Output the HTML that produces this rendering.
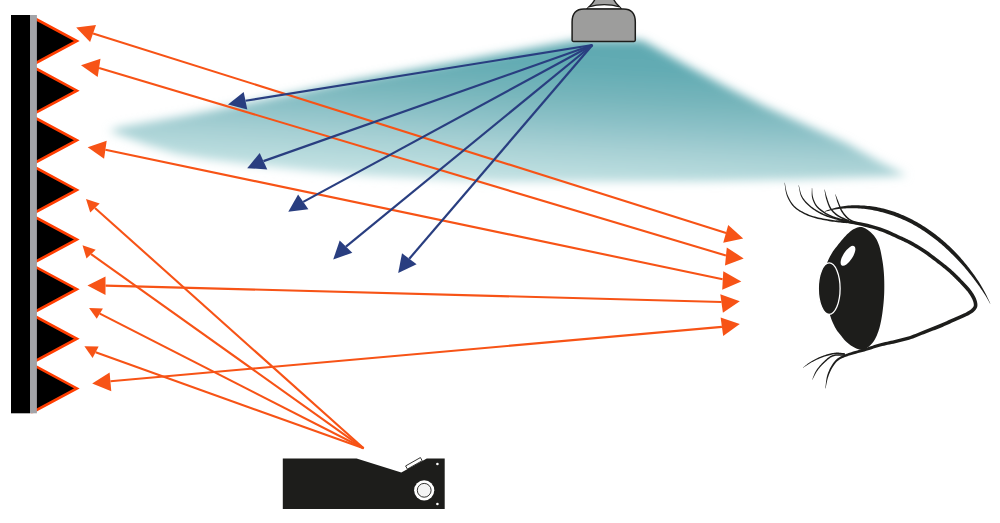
<!DOCTYPE html>
<html><head><meta charset="utf-8"><title>Diagram</title>
<style>html,body{margin:0;padding:0;background:#fff;width:1000px;height:523px;overflow:hidden;font-family:"Liberation Sans",sans-serif}svg{display:block}</style>
</head><body>
<svg width="1000" height="523" viewBox="0 0 1000 523"><defs><linearGradient id="cg" x1="650" y1="40" x2="642.3" y2="185" gradientUnits="userSpaceOnUse"><stop offset="0" stop-color="#60A9B1"/><stop offset="0.2" stop-color="#62ABB3"/><stop offset="0.41" stop-color="#76B5BB"/><stop offset="0.585" stop-color="#8CC1C7"/><stop offset="0.757" stop-color="#A5CFD3"/><stop offset="0.93" stop-color="#B9DCDE"/><stop offset="1" stop-color="#C3E1E3"/></linearGradient><filter id="bl" x="-10%" y="-40%" width="120%" height="180%"><feGaussianBlur stdDeviation="5"/></filter></defs><path d="M109.0,131.0 L119.0,127.3 L146.0,122.4 L176.5,117.2 L207.0,111.5 L250.0,102.5 L350.0,81.0 L450.0,63.0 L500.0,54.0 L550.0,45.0 L578.0,40.0 L641.0,40.0 L649.0,44.0 L687.0,65.5 L725.0,86.0 L764.0,106.0 L846.0,143.0 L880.0,162.0 L907.0,175.5 L880.0,177.0 L860.0,177.5 L800.0,179.5 L700.0,181.5 L500.0,182.0 L370.0,176.0 L310.0,171.0 L250.0,164.5 L207.0,159.3 L176.5,154.0 L146.0,144.5 L123.0,136.0 Z" fill="url(#cg)" filter="url(#bl)"/>
<line x1="93.10" y1="33.40" x2="726.10" y2="232.90" stroke="#F75316" stroke-width="2.1"/>
<line x1="99.10" y1="67.90" x2="725.90" y2="255.50" stroke="#F75316" stroke-width="2.1"/>
<line x1="105.40" y1="149.75" x2="722.60" y2="279.20" stroke="#F75316" stroke-width="2.1"/>
<line x1="105.50" y1="285.60" x2="721.50" y2="302.00" stroke="#F75316" stroke-width="2.1"/>
<line x1="110.40" y1="381.20" x2="721.90" y2="326.90" stroke="#F75316" stroke-width="2.1"/>
<line x1="363.60" y1="448.30" x2="94.95" y2="208.00" stroke="#F75316" stroke-width="2.1"/>
<line x1="363.60" y1="448.30" x2="91.10" y2="254.15" stroke="#F75316" stroke-width="2.1"/>
<line x1="363.60" y1="448.30" x2="99.83" y2="313.65" stroke="#F75316" stroke-width="2.1"/>
<line x1="363.60" y1="448.30" x2="95.62" y2="352.35" stroke="#F75316" stroke-width="2.1"/>
<polygon points="76.20,27.40 96.00,24.90 90.10,42.10" fill="#F75316"/>
<polygon points="81.00,65.30 100.50,58.70 97.70,77.10" fill="#F75316"/>
<polygon points="87.70,147.30 106.70,140.70 104.10,158.80" fill="#F75316"/>
<polygon points="87.45,285.40 105.50,276.40 105.50,295.10" fill="#F75316"/>
<polygon points="92.20,383.40 109.60,372.50 111.30,391.20" fill="#F75316"/>
<polygon points="743.20,238.40 728.20,224.90 723.20,242.80" fill="#F75316"/>
<polygon points="743.70,258.40 726.80,247.50 725.00,265.50" fill="#F75316"/>
<polygon points="741.30,281.40 723.30,271.20 722.20,289.80" fill="#F75316"/>
<polygon points="739.80,301.30 720.30,294.20 722.90,312.80" fill="#F75316"/>
<polygon points="739.80,324.10 720.60,317.50 723.20,335.90" fill="#F75316"/>
<polygon points="86.00,198.90 99.70,203.50 90.20,212.50" fill="#F75316"/>
<polygon points="82.50,245.20 95.70,249.80 86.50,258.50" fill="#F75316"/>
<polygon points="89.10,308.10 102.90,308.50 96.75,318.80" fill="#F75316"/>
<polygon points="84.40,346.30 98.65,346.60 92.60,358.10" fill="#F75316"/>
<line x1="592.40" y1="45.00" x2="245.50" y2="100.75" stroke="#293E80" stroke-width="2.2"/>
<polygon points="228.00,104.50 243.70,91.90 247.30,109.60" fill="#293E80"/>
<line x1="592.40" y1="45.00" x2="263.50" y2="161.15" stroke="#293E80" stroke-width="2.2"/>
<polygon points="247.20,168.20 259.70,152.90 267.30,169.40" fill="#293E80"/>
<line x1="592.40" y1="45.00" x2="303.25" y2="201.85" stroke="#293E80" stroke-width="2.2"/>
<polygon points="288.30,211.70 298.10,194.50 308.40,209.20" fill="#293E80"/>
<line x1="592.40" y1="45.00" x2="346.00" y2="246.55" stroke="#293E80" stroke-width="2.2"/>
<polygon points="333.20,259.60 339.70,240.40 352.30,252.70" fill="#293E80"/>
<line x1="592.40" y1="45.00" x2="409.30" y2="258.75" stroke="#293E80" stroke-width="2.2"/>
<polygon points="398.20,273.00 402.00,253.30 416.60,264.20" fill="#293E80"/>
<path d="M587.6,8.2 C591,4.8 594,2.5 595,-1 L613.6,-1 C614.6,2.5 617.6,4.8 620.8,8.2 Z" fill="#A2A2A1" stroke="#1D1D1B" stroke-width="1.4"/>
<path d="M588.6,7.2 Q604.2,2.6 619.8,7.2 L620.4,8.6 L588,8.6 Z" fill="#fff"/>
<path d="M588.6,6.8 Q604.2,2.6 619.8,6.8" fill="none" stroke="#1D1D1B" stroke-width="1.3"/>
<path d="M572.1,40.6 L572.1,22 C572.1,13 576,8.9 584,8.9 L623.4,8.9 C631.4,8.9 635.3,13 635.3,22 L635.3,40 Q635.3,41.4 634,41.4 L573.4,41.4 Q572.1,41.4 572.1,40 Z" fill="#9D9D9C" stroke="#1D1D1B" stroke-width="1.5"/>
<clipPath id="zc"><rect x="0" y="15" width="120" height="398.3"/></clipPath><path clip-path="url(#zc)" d="M30.7,16.20 L76.8,41.00 L30.7,65.80 L76.8,90.63 L30.7,115.43 L76.8,140.26 L30.7,165.06 L76.8,189.89 L30.7,214.69 L76.8,239.52 L30.7,264.32 L76.8,289.15 L30.7,313.95 L76.8,338.78 L30.7,363.58 L76.8,388.41 L30.7,413.21 " fill="#000" stroke="#FF3D00" stroke-width="2.7" stroke-linejoin="miter" stroke-miterlimit="10"/>
<rect x="11" y="15" width="19" height="398.3" fill="#000"/>
<rect x="30" y="15" width="6.9" height="398.3" fill="#A3A4A8"/>
<path d="M282.8,458.4 L356.6,458.4 L401.3,472.5 L426.8,458.4 L444.7,458.4 L444.7,509 L282.8,509 Z" fill="#1D1D1B"/>
<g transform="translate(414,463.5) rotate(-29.5)"><rect x="-8.5" y="-2" width="17" height="3.6" fill="#fff" stroke="#1D1D1B" stroke-width="0.8"/></g>
<circle cx="424.2" cy="490.3" r="10.1" fill="#fff"/>
<circle cx="424.2" cy="490.3" r="6.9" fill="#F4F4F4" stroke="#1D1D1B" stroke-width="0.9"/>
<circle cx="437.4" cy="464" r="1.3" fill="#fff"/>
<circle cx="437.4" cy="504" r="1.3" fill="#fff"/>
<path d="M860.80,226.90 L861.98,227.07 L863.16,227.43 L864.34,227.93 L865.52,228.55 L866.67,229.25 L867.80,230.00 L869.10,230.96 L870.41,232.05 L871.70,233.25 L872.93,234.53 L874.07,235.85 L875.10,237.20 L875.97,238.51 L876.73,239.85 L877.42,241.24 L878.05,242.68 L878.63,244.20 L879.20,245.80 L879.86,247.95 L880.45,250.28 L880.98,252.72 L881.46,255.20 L881.90,257.65 L882.30,260.00 L882.63,262.04 L882.93,264.03 L883.19,266.00 L883.42,267.96 L883.62,269.95 L883.80,272.00 L883.96,274.27 L884.09,276.58 L884.18,278.93 L884.25,281.29 L884.29,283.65 L884.30,286.00 L884.29,288.31 L884.26,290.60 L884.20,292.89 L884.10,295.21 L883.97,297.57 L883.80,300.00 L883.55,302.92 L883.24,305.98 L882.89,309.10 L882.49,312.20 L882.06,315.19 L881.60,318.00 L881.20,320.17 L880.79,322.25 L880.36,324.27 L879.89,326.22 L879.37,328.13 L878.80,330.00 L878.24,331.69 L877.64,333.36 L877.01,334.99 L876.33,336.56 L875.60,338.07 L874.80,339.50 L874.03,340.73 L873.23,341.91 L872.39,343.04 L871.49,344.10 L870.53,345.09 L869.50,346.00 L868.38,346.88 L867.19,347.74 L865.93,348.53 L864.64,349.19 L863.32,349.66 L862.00,349.90 L860.62,349.85 L859.18,349.55 L857.73,349.04 L856.28,348.41 L854.86,347.71 L853.50,347.00 L852.16,346.25 L850.85,345.41 L849.57,344.49 L848.32,343.53 L847.13,342.52 L846.00,341.50 L844.98,340.48 L844.01,339.41 L843.09,338.30 L842.21,337.18 L841.35,336.07 L840.50,335.00 L839.75,334.08 L839.02,333.19 L838.31,332.31 L837.62,331.41 L836.95,330.48 L836.30,329.50 L835.61,328.34 L834.94,327.13 L834.29,325.87 L833.67,324.59 L833.07,323.29 L832.50,322.00 L831.97,320.72 L831.48,319.45 L831.02,318.17 L830.57,316.85 L830.10,315.47 L829.60,314.00 L828.85,311.89 L828.02,309.60 L827.16,307.20 L826.34,304.75 L825.60,302.33 L825.00,300.00 L824.58,297.97 L824.22,295.97 L823.94,293.99 L823.73,292.01 L823.58,290.02 L823.50,288.00 L823.50,285.85 L823.59,283.65 L823.76,281.44 L823.98,279.24 L824.23,277.09 L824.50,275.00 L824.74,273.18 L824.98,271.41 L825.25,269.68 L825.58,267.96 L825.99,266.24 L826.50,264.50 L827.20,262.55 L828.04,260.56 L828.97,258.57 L829.96,256.62 L830.98,254.75 L832.00,253.00 L832.87,251.62 L833.78,250.32 L834.70,249.07 L835.63,247.87 L836.57,246.69 L837.50,245.50 L838.38,244.37 L839.25,243.26 L840.13,242.17 L841.02,241.09 L841.91,240.03 L842.80,239.00 L843.65,238.03 L844.49,237.08 L845.34,236.15 L846.20,235.24 L847.08,234.35 L848.00,233.50 L848.94,232.67 L849.90,231.84 L850.89,231.04 L851.90,230.29 L852.93,229.60 L854.00,229.00 L855.08,228.46 L856.20,227.95 L857.34,227.50 L858.50,227.15 L859.66,226.93 Z" fill="#1D1D1B"/><ellipse cx="829.2" cy="288.6" rx="10.9" ry="25.7" fill="#1D1D1B" stroke="#fff" stroke-width="1.3"/><ellipse cx="848" cy="255.8" rx="4.7" ry="11.5" transform="rotate(32.8 848 255.8)" fill="#fff"/><path d="M825.00,211.78 L826.62,211.31 L828.25,210.88 L829.89,210.48 L831.55,210.12 L833.21,209.80 L834.88,209.50 L836.56,209.24 L838.25,209.02 L839.95,208.82 L841.65,208.66 L843.35,208.53 L845.06,208.43 L846.77,208.37 L848.48,208.33 L850.19,208.29 L851.90,208.26 L853.62,208.26 L855.33,208.29 L857.05,208.35 L858.76,208.44 L860.47,208.55 L862.18,208.69 L863.89,208.86 L865.60,209.05 L867.30,209.27 L869.00,209.51 L870.69,209.78 L872.38,210.08 L874.06,210.40 L875.74,210.74 L877.41,211.11 L879.07,211.50 L880.73,211.91 L882.38,212.35 L884.02,212.81 L885.66,213.28 L887.29,213.75 L888.92,214.25 L890.54,214.77 L892.16,215.31 L893.76,215.87 L895.36,216.45 L896.94,217.05 L898.52,217.67 L900.09,218.31 L901.65,218.97 L903.20,219.65 L904.75,220.35 L906.28,221.07 L907.80,221.80 L909.32,222.56 L910.82,223.33 L912.32,224.12 L913.80,224.93 L915.28,225.75 L916.75,226.59 L918.20,227.45 L919.65,228.33 L921.09,229.22 L922.52,230.13 L923.94,231.05 L925.34,231.99 L926.74,232.94 L928.13,233.91 L929.51,234.89 L930.88,235.89 L932.24,236.90 L933.59,237.93 L934.93,238.97 L936.26,240.02 L937.59,241.09 L938.90,242.17 L940.20,243.26 L941.49,244.37 L942.78,245.49 L944.05,246.62 L945.32,247.76 L946.57,248.92 L947.82,250.09 L949.05,251.27 L950.28,252.46 L951.49,253.66 L952.70,254.87 L953.92,256.08 L955.13,257.29 L956.33,258.52 L957.52,259.75 L958.71,260.99 L959.88,262.25 L961.05,263.51 L962.20,264.79 L963.34,266.07 L964.48,267.37 L965.60,268.67 L966.72,269.98 L967.82,271.30 L968.91,272.63 L969.99,273.97 L971.06,275.32 L972.12,276.68 L973.17,278.04 L974.20,279.42 L975.23,280.80 L976.24,282.19 L977.25,283.58 L978.26,284.96 L979.27,286.35 L980.25,287.75 L981.23,289.16 L982.19,290.57 L983.14,291.99 L984.07,293.43 L984.98,294.86 L985.88,296.31 L986.76,297.76 L987.63,299.22 L988.47,300.69 L989.30,302.16 L990.11,303.64 L990.29,303.56 L989.61,302.01 L988.91,300.46 L988.19,298.92 L987.45,297.39 L986.69,295.86 L985.91,294.33 L985.12,292.81 L984.31,291.30 L983.48,289.79 L982.63,288.28 L981.77,286.78 L980.90,285.29 L980.01,283.80 L979.10,282.32 L978.16,280.86 L977.20,279.41 L976.22,277.97 L975.23,276.54 L974.23,275.12 L973.21,273.70 L972.19,272.29 L971.15,270.89 L970.09,269.50 L969.03,268.11 L967.96,266.74 L966.87,265.37 L965.77,264.01 L964.67,262.66 L963.55,261.32 L962.42,259.99 L961.28,258.67 L960.13,257.35 L958.97,256.05 L957.79,254.76 L956.61,253.47 L955.41,252.21 L954.18,250.97 L952.95,249.74 L951.70,248.52 L950.44,247.32 L949.18,246.12 L947.90,244.94 L946.61,243.77 L945.31,242.61 L944.01,241.47 L942.69,240.33 L941.36,239.21 L940.02,238.11 L938.68,237.01 L937.32,235.93 L935.95,234.87 L934.57,233.81 L933.18,232.77 L931.78,231.75 L930.37,230.74 L928.95,229.74 L927.52,228.76 L926.08,227.80 L924.63,226.85 L923.17,225.92 L921.70,225.00 L920.21,224.10 L918.72,223.21 L917.22,222.35 L915.70,221.49 L914.18,220.66 L912.64,219.85 L911.10,219.05 L909.54,218.27 L907.98,217.51 L906.40,216.77 L904.82,216.04 L903.22,215.34 L901.62,214.66 L900.00,213.99 L898.38,213.35 L896.74,212.72 L895.10,212.12 L893.45,211.54 L891.79,210.98 L890.12,210.44 L888.44,209.93 L886.75,209.43 L885.05,208.98 L883.34,208.56 L881.63,208.16 L879.90,207.79 L878.18,207.45 L876.44,207.12 L874.70,206.83 L872.96,206.55 L871.21,206.31 L869.46,206.09 L867.70,205.89 L865.94,205.72 L864.18,205.58 L862.42,205.47 L860.66,205.38 L858.89,205.32 L857.13,205.29 L855.36,205.29 L853.60,205.31 L851.83,205.37 L850.07,205.45 L848.32,205.59 L846.57,205.78 L844.83,206.01 L843.10,206.27 L841.37,206.55 L839.65,206.87 L837.95,207.22 L836.25,207.61 L834.57,208.02 L832.90,208.47 L831.25,208.95 L829.61,209.47 L827.99,210.02 L826.38,210.60 L824.80,211.22 Z" fill="#1D1D1B"/><path d="M835.97,221.20 L837.07,221.39 L838.15,221.58 L839.22,221.76 L840.30,221.94 L841.38,222.13 L842.50,222.34 L843.65,222.55 L844.86,222.79 L846.53,223.06 L848.27,223.34 L850.08,223.64 L851.93,223.97 L853.83,224.32 L855.76,224.70 L857.70,225.11 L859.66,225.56 L862.01,226.08 L864.44,226.64 L866.91,227.24 L869.43,227.88 L871.95,228.56 L874.47,229.30 L876.96,230.08 L879.41,230.90 L881.93,231.82 L884.51,232.84 L887.11,233.93 L889.70,235.06 L892.25,236.21 L894.71,237.34 L897.06,238.43 L899.25,239.44 L900.74,240.11 L902.11,240.73 L903.41,241.32 L904.65,241.90 L905.87,242.49 L907.11,243.10 L908.39,243.76 L909.74,244.48 L911.52,245.47 L913.37,246.53 L915.28,247.66 L917.22,248.84 L919.18,250.05 L921.12,251.29 L923.03,252.54 L924.88,253.79 L926.70,255.05 L928.55,256.39 L930.39,257.76 L932.22,259.15 L934.01,260.52 L935.73,261.86 L937.37,263.14 L938.90,264.32 L939.92,265.11 L940.88,265.85 L941.79,266.55 L942.66,267.23 L943.50,267.90 L944.34,268.57 L945.18,269.26 L946.04,269.97 L946.94,270.74 L947.83,271.52 L948.73,272.31 L949.62,273.11 L950.51,273.92 L951.40,274.74 L952.28,275.57 L953.15,276.40 L954.04,277.26 L954.93,278.13 L955.81,279.01 L956.69,279.90 L957.56,280.79 L958.44,281.70 L959.32,282.62 L960.20,283.54 L961.12,284.51 L962.06,285.49 L963.00,286.48 L963.93,287.47 L964.84,288.45 L965.71,289.43 L966.53,290.38 L967.29,291.32 L967.90,292.11 L968.49,292.89 L969.05,293.66 L969.58,294.43 L970.08,295.18 L970.55,295.94 L971.00,296.69 L971.41,297.45 L971.77,298.14 L972.11,298.84 L972.43,299.54 L972.73,300.22 L972.99,300.90 L973.21,301.55 L973.40,302.17 L973.54,302.78 L973.64,303.28 L973.72,303.77 L973.78,304.24 L973.82,304.67 L973.83,305.07 L973.81,305.43 L973.76,305.75 L973.69,306.04 L973.57,306.35 L973.39,306.68 L973.16,307.04 L972.88,307.41 L972.55,307.79 L972.19,308.19 L971.79,308.59 L971.38,308.97 L970.90,309.40 L970.40,309.80 L969.87,310.18 L969.28,310.57 L968.65,310.96 L967.97,311.36 L967.23,311.78 L966.45,312.21 L965.17,312.88 L963.75,313.56 L962.20,314.27 L960.55,314.99 L958.85,315.72 L957.11,316.46 L955.37,317.21 L953.67,317.96 L951.90,318.75 L950.12,319.56 L948.34,320.37 L946.54,321.18 L944.74,321.99 L942.93,322.79 L941.12,323.57 L939.31,324.34 L937.48,325.09 L935.62,325.83 L933.76,326.56 L931.88,327.28 L930.00,328.00 L928.11,328.72 L926.23,329.44 L924.36,330.17 L922.53,330.91 L920.73,331.66 L918.95,332.41 L917.18,333.16 L915.41,333.89 L913.64,334.59 L911.86,335.26 L910.07,335.89 L908.20,336.48 L906.30,337.04 L904.38,337.57 L902.43,338.07 L900.48,338.56 L898.52,339.04 L896.56,339.52 L894.62,340.00 L892.74,340.44 L890.87,340.87 L888.99,341.27 L887.11,341.68 L885.22,342.09 L883.34,342.51 L881.46,342.97 L879.58,343.46 L877.78,343.98 L876.01,344.52 L874.27,345.09 L872.54,345.67 L870.81,346.25 L869.08,346.83 L867.34,347.40 L865.57,347.96 L863.60,348.57 L861.53,349.18 L859.41,349.80 L857.28,350.41 L855.19,351.02 L853.18,351.62 L851.30,352.20 L849.60,352.76 L848.58,353.12 L847.62,353.45 L846.72,353.78 L845.85,354.10 L845.00,354.43 L844.17,354.78 L843.34,355.16 L842.51,355.56 L841.71,355.96 L840.92,356.37 L840.13,356.80 L839.35,357.25 L838.57,357.73 L837.81,358.25 L837.06,358.82 L836.33,359.45 L835.56,360.21 L834.81,361.02 L834.09,361.89 L833.40,362.79 L832.74,363.72 L832.11,364.68 L831.50,365.66 L830.92,366.65 L830.34,367.73 L829.78,368.85 L829.24,369.99 L828.74,371.16 L828.27,372.36 L827.83,373.58 L827.41,374.83 L827.03,376.10 L826.69,377.56 L826.42,379.07 L826.19,380.60 L825.99,382.16 L825.81,383.72 L825.64,385.28 L825.46,386.84 L825.25,388.37 L825.55,388.43 L825.89,386.91 L826.21,385.37 L826.52,383.83 L826.83,382.29 L827.16,380.78 L827.52,379.30 L827.92,377.87 L828.37,376.50 L828.79,375.29 L829.23,374.10 L829.71,372.94 L830.21,371.80 L830.74,370.69 L831.29,369.62 L831.87,368.57 L832.48,367.55 L833.06,366.62 L833.66,365.70 L834.28,364.80 L834.92,363.93 L835.58,363.10 L836.26,362.32 L836.96,361.60 L837.67,360.95 L838.32,360.43 L838.99,359.96 L839.69,359.52 L840.41,359.12 L841.15,358.73 L841.92,358.36 L842.70,358.00 L843.49,357.64 L844.29,357.29 L845.07,356.98 L845.86,356.69 L846.68,356.41 L847.52,356.13 L848.42,355.85 L849.38,355.55 L850.40,355.24 L852.08,354.73 L853.94,354.21 L855.94,353.67 L858.03,353.11 L860.17,352.54 L862.32,351.97 L864.42,351.40 L866.43,350.84 L868.25,350.29 L870.03,349.73 L871.78,349.17 L873.51,348.61 L875.22,348.06 L876.94,347.53 L878.67,347.02 L880.42,346.54 L882.23,346.08 L884.06,345.66 L885.91,345.25 L887.78,344.86 L889.67,344.47 L891.57,344.07 L893.48,343.65 L895.38,343.20 L897.33,342.74 L899.29,342.28 L901.27,341.81 L903.25,341.32 L905.24,340.82 L907.22,340.29 L909.18,339.72 L911.13,339.11 L913.01,338.47 L914.87,337.79 L916.69,337.08 L918.49,336.35 L920.28,335.61 L922.07,334.87 L923.85,334.14 L925.64,333.43 L927.49,332.72 L929.36,332.01 L931.25,331.31 L933.14,330.60 L935.03,329.89 L936.93,329.16 L938.81,328.42 L940.69,327.66 L942.53,326.88 L944.37,326.09 L946.20,325.28 L948.02,324.46 L949.82,323.65 L951.61,322.83 L953.38,322.03 L955.13,321.24 L956.81,320.51 L958.52,319.77 L960.26,319.03 L961.98,318.29 L963.66,317.56 L965.27,316.83 L966.78,316.10 L968.15,315.39 L968.98,314.92 L969.76,314.48 L970.51,314.05 L971.23,313.60 L971.91,313.14 L972.58,312.67 L973.22,312.16 L973.82,311.63 L974.30,311.16 L974.78,310.69 L975.24,310.19 L975.69,309.66 L976.11,309.10 L976.50,308.50 L976.84,307.85 L977.11,307.16 L977.29,306.47 L977.39,305.79 L977.43,305.13 L977.42,304.48 L977.36,303.84 L977.28,303.23 L977.18,302.63 L977.06,302.02 L976.88,301.25 L976.64,300.45 L976.37,299.66 L976.06,298.86 L975.72,298.07 L975.36,297.29 L974.98,296.52 L974.59,295.75 L974.13,294.91 L973.63,294.07 L973.11,293.23 L972.56,292.40 L971.98,291.58 L971.38,290.75 L970.76,289.92 L970.11,289.08 L969.29,288.07 L968.42,287.05 L967.51,286.03 L966.57,285.02 L965.62,284.00 L964.66,283.01 L963.72,282.02 L962.80,281.06 L961.92,280.13 L961.04,279.21 L960.15,278.29 L959.26,277.37 L958.36,276.47 L957.46,275.57 L956.56,274.68 L955.65,273.80 L954.75,272.95 L953.85,272.10 L952.94,271.27 L952.03,270.44 L951.12,269.62 L950.21,268.81 L949.29,268.01 L948.36,267.23 L947.47,266.48 L946.61,265.77 L945.74,265.08 L944.88,264.40 L943.99,263.71 L943.08,263.00 L942.12,262.26 L941.10,261.48 L939.58,260.30 L937.94,259.02 L936.21,257.67 L934.41,256.29 L932.56,254.88 L930.68,253.48 L928.79,252.12 L926.92,250.81 L925.02,249.54 L923.07,248.27 L921.09,247.01 L919.11,245.77 L917.13,244.57 L915.18,243.42 L913.29,242.34 L911.46,241.32 L910.06,240.57 L908.73,239.88 L907.45,239.25 L906.18,238.65 L904.91,238.05 L903.60,237.46 L902.22,236.83 L900.75,236.16 L898.56,235.16 L896.22,234.07 L893.74,232.94 L891.17,231.77 L888.53,230.62 L885.87,229.50 L883.21,228.45 L880.59,227.50 L878.05,226.67 L875.48,225.89 L872.89,225.17 L870.30,224.49 L867.74,223.86 L865.21,223.27 L862.74,222.73 L860.34,222.24 L858.31,221.90 L856.29,221.59 L854.30,221.33 L852.35,221.10 L850.45,220.89 L848.61,220.71 L846.84,220.55 L845.14,220.41 L843.89,220.37 L842.69,220.34 L841.54,220.34 L840.42,220.35 L839.33,220.36 L838.24,220.38 L837.15,220.40 L836.03,220.40 Z" fill="#1D1D1B"/><path d="M784.45,182.83 L784.63,183.87 L784.78,184.92 L784.92,185.97 L785.05,187.02 L785.18,188.08 L785.32,189.13 L785.47,190.19 L785.65,191.24 L785.86,192.29 L786.10,193.33 L786.39,194.36 L786.74,195.38 L787.13,196.42 L787.55,197.46 L788.00,198.51 L788.49,199.54 L789.03,200.56 L789.60,201.57 L790.20,202.56 L790.85,203.54 L791.53,204.49 L792.26,205.41 L793.03,206.30 L793.85,207.16 L794.82,208.07 L795.86,208.95 L796.96,209.79 L798.11,210.60 L799.30,211.38 L800.54,212.12 L801.81,212.83 L803.10,213.51 L804.42,214.17 L805.75,214.80 L807.09,215.39 L808.43,215.97 L809.91,216.56 L811.44,217.10 L813.00,217.60 L814.59,218.06 L816.21,218.48 L817.84,218.88 L819.48,219.25 L821.13,219.60 L822.78,219.93 L824.42,220.24 L826.05,220.55 L827.66,220.86 L829.26,221.14 L830.85,221.40 L832.45,221.63 L834.05,221.85 L835.65,222.04 L837.25,222.23 L838.85,222.40 L840.44,222.57 L842.04,222.74 L843.63,222.92 L845.21,223.10 L846.80,223.29 L847.00,221.71 L845.40,221.52 L843.80,221.34 L842.20,221.17 L840.61,221.00 L839.01,220.83 L837.42,220.67 L835.83,220.49 L834.25,220.30 L832.67,220.09 L831.09,219.87 L829.51,219.62 L827.94,219.34 L826.33,219.04 L824.70,218.74 L823.07,218.43 L821.43,218.11 L819.80,217.77 L818.18,217.41 L816.57,217.02 L814.99,216.61 L813.43,216.17 L811.90,215.70 L810.42,215.19 L808.97,214.63 L807.65,214.08 L806.33,213.50 L805.02,212.90 L803.73,212.27 L802.46,211.62 L801.22,210.94 L800.01,210.23 L798.85,209.49 L797.74,208.72 L796.68,207.92 L795.68,207.10 L794.75,206.24 L793.97,205.44 L793.23,204.60 L792.53,203.73 L791.87,202.82 L791.24,201.90 L790.65,200.94 L790.09,199.97 L789.57,198.99 L789.06,198.00 L788.57,197.01 L788.10,196.01 L787.66,195.02 L787.28,194.06 L786.95,193.08 L786.65,192.09 L786.40,191.08 L786.17,190.06 L785.96,189.02 L785.76,187.98 L785.57,186.94 L785.39,185.89 L785.19,184.85 L784.98,183.80 L784.75,182.77 Z" fill="#1D1D1B"/><path d="M798.46,185.24 L798.69,186.24 L798.90,187.26 L799.09,188.29 L799.27,189.32 L799.45,190.35 L799.65,191.38 L799.86,192.41 L800.10,193.43 L800.37,194.44 L800.69,195.44 L801.07,196.41 L801.52,197.36 L802.03,198.30 L802.60,199.22 L803.23,200.10 L803.89,200.96 L804.60,201.81 L805.33,202.63 L806.09,203.44 L806.88,204.23 L807.68,205.00 L808.50,205.75 L809.33,206.49 L810.18,207.21 L811.10,207.96 L812.05,208.70 L813.03,209.41 L814.04,210.11 L815.07,210.79 L816.12,211.45 L817.19,212.08 L818.27,212.70 L819.37,213.30 L820.47,213.88 L821.58,214.44 L822.69,214.97 L823.84,215.50 L825.02,215.99 L826.21,216.46 L827.41,216.90 L828.62,217.32 L829.85,217.73 L831.08,218.11 L832.31,218.48 L833.54,218.84 L834.76,219.18 L835.99,219.52 L837.20,219.85 L838.40,220.16 L839.60,220.45 L840.80,220.71 L842.00,220.97 L843.20,221.21 L844.39,221.44 L845.59,221.66 L846.78,221.88 L847.98,222.10 L849.17,222.32 L850.36,222.55 L851.54,222.78 L851.86,221.22 L850.66,220.98 L849.46,220.76 L848.26,220.54 L847.07,220.32 L845.87,220.11 L844.68,219.89 L843.50,219.66 L842.31,219.43 L841.13,219.19 L839.95,218.93 L838.77,218.65 L837.60,218.35 L836.39,218.03 L835.17,217.70 L833.95,217.36 L832.74,217.01 L831.52,216.65 L830.31,216.28 L829.11,215.89 L827.92,215.48 L826.74,215.05 L825.58,214.60 L824.43,214.13 L823.31,213.63 L822.22,213.12 L821.13,212.58 L820.04,212.03 L818.96,211.45 L817.90,210.86 L816.85,210.25 L815.81,209.62 L814.80,208.97 L813.82,208.30 L812.85,207.61 L811.92,206.91 L811.02,206.19 L810.19,205.49 L809.37,204.78 L808.56,204.05 L807.76,203.31 L806.99,202.56 L806.25,201.78 L805.53,201.00 L804.85,200.19 L804.20,199.37 L803.60,198.54 L803.02,197.69 L802.48,196.84 L802.01,195.98 L801.60,195.08 L801.23,194.16 L800.90,193.20 L800.60,192.22 L800.33,191.23 L800.08,190.22 L799.83,189.20 L799.58,188.18 L799.32,187.16 L799.05,186.15 L798.74,185.16 Z" fill="#1D1D1B"/><path d="M811.85,188.01 L811.85,188.77 L811.83,189.53 L811.80,190.29 L811.77,191.06 L811.73,191.82 L811.71,192.59 L811.69,193.36 L811.69,194.14 L811.71,194.91 L811.76,195.68 L811.85,196.45 L811.98,197.22 L812.14,197.99 L812.33,198.77 L812.56,199.53 L812.82,200.30 L813.10,201.06 L813.40,201.82 L813.73,202.57 L814.09,203.30 L814.47,204.03 L814.88,204.73 L815.31,205.42 L815.77,206.09 L816.29,206.76 L816.85,207.42 L817.44,208.05 L818.06,208.67 L818.70,209.27 L819.37,209.85 L820.05,210.41 L820.75,210.96 L821.46,211.49 L822.17,212.01 L822.88,212.51 L823.60,213.00 L824.33,213.49 L825.08,213.97 L825.84,214.42 L826.60,214.86 L827.39,215.28 L828.18,215.69 L828.98,216.09 L829.80,216.47 L830.63,216.84 L831.48,217.21 L832.34,217.56 L833.23,217.92 L834.27,218.31 L835.35,218.67 L836.46,219.02 L837.58,219.35 L838.73,219.67 L839.88,219.97 L841.04,220.27 L842.21,220.57 L843.37,220.86 L844.52,221.16 L845.66,221.46 L846.79,221.77 L847.21,220.23 L846.07,219.92 L844.92,219.62 L843.75,219.33 L842.59,219.04 L841.43,218.75 L840.27,218.46 L839.13,218.16 L838.01,217.85 L836.90,217.54 L835.83,217.20 L834.78,216.85 L833.77,216.48 L832.92,216.15 L832.07,215.80 L831.24,215.45 L830.43,215.09 L829.63,214.72 L828.85,214.34 L828.08,213.95 L827.33,213.55 L826.58,213.13 L825.85,212.70 L825.12,212.26 L824.40,211.80 L823.70,211.32 L822.99,210.84 L822.29,210.35 L821.60,209.84 L820.92,209.32 L820.26,208.79 L819.61,208.24 L818.99,207.68 L818.40,207.11 L817.84,206.53 L817.31,205.93 L816.83,205.31 L816.39,204.70 L815.97,204.06 L815.58,203.40 L815.21,202.73 L814.87,202.03 L814.54,201.33 L814.24,200.61 L813.97,199.89 L813.71,199.16 L813.47,198.43 L813.24,197.70 L813.02,196.98 L812.84,196.27 L812.70,195.56 L812.59,194.83 L812.50,194.09 L812.44,193.34 L812.39,192.59 L812.36,191.82 L812.33,191.06 L812.30,190.29 L812.26,189.52 L812.21,188.75 L812.15,187.99 Z" fill="#1D1D1B"/><path d="M824.35,189.53 L824.50,190.34 L824.64,191.14 L824.77,191.94 L824.90,192.74 L825.03,193.54 L825.16,194.35 L825.30,195.16 L825.44,195.96 L825.60,196.77 L825.77,197.58 L825.98,198.39 L826.22,199.18 L826.47,200.00 L826.73,200.83 L826.99,201.67 L827.26,202.52 L827.54,203.36 L827.84,204.21 L828.15,205.05 L828.49,205.87 L828.85,206.68 L829.24,207.48 L829.66,208.25 L830.11,208.99 L830.57,209.66 L831.05,210.31 L831.55,210.95 L832.07,211.56 L832.60,212.16 L833.16,212.74 L833.75,213.30 L834.35,213.85 L834.97,214.38 L835.61,214.90 L836.27,215.41 L836.96,215.92 L837.80,216.50 L838.69,217.04 L839.61,217.56 L840.56,218.06 L841.54,218.53 L842.53,219.00 L843.53,219.45 L844.54,219.90 L845.54,220.35 L846.52,220.80 L847.50,221.25 L848.45,221.72 L849.15,220.28 L848.18,219.81 L847.18,219.35 L846.18,218.91 L845.17,218.46 L844.17,218.02 L843.18,217.58 L842.21,217.13 L841.26,216.67 L840.34,216.20 L839.46,215.72 L838.63,215.21 L837.84,214.68 L837.19,214.20 L836.55,213.71 L835.94,213.22 L835.34,212.71 L834.77,212.20 L834.21,211.67 L833.67,211.14 L833.16,210.59 L832.66,210.02 L832.18,209.44 L831.72,208.83 L831.29,208.21 L830.86,207.54 L830.46,206.83 L830.08,206.10 L829.72,205.33 L829.39,204.55 L829.07,203.75 L828.77,202.93 L828.48,202.11 L828.19,201.28 L827.92,200.45 L827.65,199.63 L827.38,198.82 L827.14,198.04 L826.89,197.27 L826.64,196.50 L826.41,195.73 L826.18,194.95 L825.96,194.17 L825.74,193.39 L825.53,192.60 L825.31,191.82 L825.10,191.03 L824.88,190.25 L824.65,189.47 Z" fill="#1D1D1B"/><path d="M835.16,194.35 L835.36,195.08 L835.56,195.81 L835.76,196.54 L835.96,197.28 L836.15,198.01 L836.35,198.74 L836.55,199.48 L836.76,200.21 L836.97,200.95 L837.19,201.68 L837.46,202.40 L837.73,203.12 L838.00,203.85 L838.27,204.58 L838.54,205.32 L838.81,206.06 L839.09,206.80 L839.38,207.54 L839.68,208.28 L839.99,209.01 L840.33,209.75 L840.69,210.47 L841.08,211.18 L841.50,211.88 L841.96,212.59 L842.44,213.31 L842.95,214.02 L843.48,214.72 L844.03,215.42 L844.60,216.10 L845.19,216.76 L845.79,217.41 L846.41,218.03 L847.04,218.62 L847.68,219.18 L848.33,219.71 L848.95,220.17 L849.59,220.58 L850.25,220.97 L850.91,221.32 L851.57,221.64 L852.24,221.95 L852.90,222.25 L853.57,222.54 L854.22,222.82 L854.87,223.11 L855.51,223.41 L856.15,223.72 L856.85,222.28 L856.19,221.96 L855.53,221.66 L854.86,221.37 L854.19,221.08 L853.53,220.80 L852.88,220.52 L852.24,220.23 L851.61,219.93 L851.00,219.60 L850.40,219.26 L849.83,218.89 L849.27,218.49 L848.67,218.01 L848.07,217.48 L847.47,216.93 L846.88,216.35 L846.30,215.74 L845.74,215.11 L845.19,214.46 L844.65,213.80 L844.13,213.14 L843.63,212.46 L843.15,211.79 L842.70,211.12 L842.30,210.47 L841.92,209.81 L841.57,209.14 L841.23,208.45 L840.91,207.75 L840.60,207.04 L840.31,206.32 L840.02,205.59 L839.73,204.86 L839.45,204.13 L839.16,203.40 L838.87,202.68 L838.59,201.97 L838.32,201.27 L838.03,200.57 L837.73,199.87 L837.44,199.17 L837.16,198.47 L836.87,197.77 L836.59,197.07 L836.30,196.36 L836.02,195.66 L835.73,194.95 L835.44,194.25 Z" fill="#1D1D1B"/><path d="M845.06,353.20 L844.25,353.15 L843.45,353.08 L842.65,353.00 L841.84,352.91 L841.03,352.82 L840.22,352.74 L839.39,352.66 L838.56,352.61 L837.72,352.57 L836.87,352.56 L836.01,352.59 L835.13,352.65 L834.18,352.75 L833.21,352.89 L832.24,353.06 L831.26,353.26 L830.28,353.48 L829.30,353.73 L828.31,353.99 L827.33,354.28 L826.36,354.57 L825.39,354.88 L824.42,355.21 L823.47,355.53 L822.48,355.89 L821.50,356.27 L820.51,356.67 L819.52,357.09 L818.53,357.53 L817.55,357.98 L816.58,358.44 L815.62,358.92 L814.67,359.41 L813.74,359.90 L812.82,360.41 L811.93,360.92 L811.10,361.41 L810.29,361.92 L809.50,362.45 L808.73,362.98 L807.98,363.53 L807.25,364.11 L806.53,364.69 L805.81,365.27 L805.09,365.86 L804.37,366.44 L803.65,367.01 L802.91,367.58 L803.09,367.82 L803.88,367.33 L804.66,366.83 L805.44,366.33 L806.21,365.82 L806.98,365.32 L807.76,364.82 L808.53,364.32 L809.30,363.82 L810.08,363.31 L810.86,362.82 L811.66,362.34 L812.47,361.88 L813.37,361.40 L814.28,360.93 L815.21,360.47 L816.15,360.01 L817.11,359.57 L818.08,359.13 L819.05,358.71 L820.03,358.31 L821.01,357.92 L821.99,357.55 L822.96,357.20 L823.93,356.87 L824.87,356.55 L825.82,356.24 L826.78,355.95 L827.74,355.66 L828.70,355.39 L829.66,355.14 L830.61,354.91 L831.56,354.71 L832.51,354.53 L833.44,354.37 L834.36,354.25 L835.27,354.15 L836.07,354.10 L836.87,354.09 L837.67,354.11 L838.47,354.15 L839.26,354.21 L840.06,354.29 L840.86,354.38 L841.67,354.47 L842.48,354.56 L843.30,354.65 L844.12,354.73 L844.94,354.80 Z" fill="#1D1D1B"/><path d="M844.97,354.20 L843.97,354.24 L842.96,354.25 L841.93,354.24 L840.89,354.21 L839.84,354.19 L838.79,354.17 L837.74,354.18 L836.69,354.23 L835.65,354.32 L834.63,354.47 L833.62,354.69 L832.65,355.00 L831.73,355.38 L830.84,355.83 L829.99,356.34 L829.15,356.89 L828.34,357.49 L827.56,358.12 L826.79,358.77 L826.04,359.44 L825.32,360.11 L824.60,360.78 L823.91,361.45 L823.23,362.10 L822.59,362.73 L821.95,363.37 L821.33,364.02 L820.71,364.68 L820.11,365.35 L819.53,366.03 L818.96,366.72 L818.40,367.42 L817.86,368.12 L817.34,368.84 L816.83,369.56 L816.34,370.30 L815.88,371.04 L815.45,371.80 L815.04,372.57 L814.66,373.35 L814.31,374.14 L813.98,374.94 L813.66,375.75 L813.35,376.55 L813.04,377.35 L812.72,378.15 L812.40,378.95 L812.07,379.73 L812.33,379.87 L812.75,379.11 L813.16,378.35 L813.56,377.59 L813.95,376.82 L814.35,376.06 L814.74,375.30 L815.15,374.54 L815.55,373.80 L815.95,373.05 L816.36,372.32 L816.80,371.60 L817.26,370.90 L817.75,370.20 L818.26,369.51 L818.78,368.83 L819.32,368.15 L819.88,367.49 L820.46,366.83 L821.04,366.19 L821.64,365.55 L822.26,364.92 L822.88,364.31 L823.52,363.70 L824.17,363.10 L824.86,362.46 L825.57,361.80 L826.28,361.15 L827.00,360.49 L827.73,359.85 L828.47,359.23 L829.22,358.64 L829.98,358.09 L830.76,357.58 L831.55,357.13 L832.35,356.73 L833.15,356.40 L834.01,356.14 L834.89,355.95 L835.82,355.82 L836.78,355.75 L837.77,355.72 L838.78,355.72 L839.80,355.74 L840.84,355.77 L841.89,355.81 L842.95,355.83 L844.00,355.83 L845.03,355.80 Z" fill="#1D1D1B"/></svg>
</body></html>
